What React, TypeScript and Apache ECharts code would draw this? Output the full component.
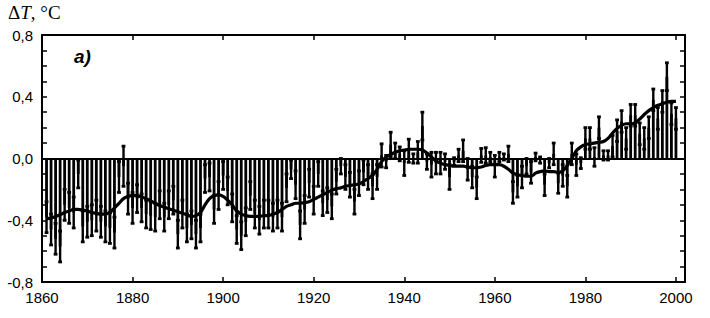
import React, { useEffect, useRef } from 'react';
import * as echarts from 'echarts';

// Annual global temperature anomalies (°C), one value per year from START_YEAR
const START_YEAR = 1861;

const anomaly = [
  -0.38, -0.46, -0.52, -0.57, -0.30, -0.32, -0.35, -0.10, -0.44, -0.41,
  -0.40, -0.37, -0.41, -0.44, -0.45, -0.48, -0.12, -0.05, -0.26, -0.32,
  -0.26, -0.32, -0.36, -0.37, -0.38, -0.30, -0.38, -0.30, -0.27, -0.49,
  -0.36, -0.45, -0.43, -0.49, -0.45, -0.13, -0.12, -0.33, -0.24, -0.11,
  -0.21, -0.32, -0.46, -0.50, -0.41, -0.24, -0.36, -0.40, -0.36, -0.36,
  -0.38, -0.36, -0.38, -0.19, -0.07, -0.17, -0.43, -0.33, -0.16, -0.27,
  -0.10, -0.29, -0.27, -0.31, -0.15, -0.05, -0.12, -0.17, -0.28, -0.16,
  -0.09, -0.12, -0.18, -0.12, 0.02, -0.02, 0.09, 0.05, 0.03, -0.03,
  0.05, 0.00, 0.04, 0.21, -0.02, -0.04, -0.03, -0.03, -0.02, -0.12,
  -0.02, 0.02, 0.05, -0.07, -0.12, -0.19, 0.02, 0.02, 0.01, -0.05,
  0.01, 0.01, 0.03, -0.22, -0.18, -0.12, -0.05, -0.09, 0.01, -0.01,
  -0.17, -0.03, 0.03, -0.16, -0.11, -0.18, 0.03, -0.04, -0.03, 0.13,
  0.13, 0.01, 0.20, 0.02, 0.02, 0.08, 0.18, 0.24, 0.13, 0.28,
  0.28, 0.16, 0.13, 0.20, 0.38, 0.26, 0.37, 0.53, 0.29, 0.26,
];

// Half-width of each year's error bar (°C)
const errHalf = [
  0.10, 0.10, 0.10, 0.10, 0.10, 0.10, 0.10, 0.09, 0.10, 0.10,
  0.10, 0.10, 0.10, 0.10, 0.10, 0.10, 0.10, 0.13, 0.10, 0.10,
  0.09, 0.09, 0.09, 0.09, 0.09, 0.09, 0.09, 0.09, 0.09, 0.09,
  0.09, 0.09, 0.09, 0.09, 0.09, 0.09, 0.09, 0.09, 0.09, 0.09,
  0.09, 0.09, 0.09, 0.09, 0.09, 0.09, 0.09, 0.09, 0.09, 0.09,
  0.09, 0.09, 0.09, 0.09, 0.06, 0.09, 0.09, 0.09, 0.09, 0.09,
  0.08, 0.08, 0.08, 0.08, 0.08, 0.05, 0.08, 0.08, 0.08, 0.08,
  0.08, 0.08, 0.08, 0.08, 0.075, 0.04, 0.08, 0.05, 0.045, 0.08,
  0.075, 0.03, 0.07, 0.09, 0.05, 0.08, 0.07, 0.07, 0.05, 0.08,
  0.025, 0.04, 0.07, 0.07, 0.07, 0.07, 0.045, 0.05, 0.03, 0.07,
  0.03, 0.02, 0.05, 0.07, 0.07, 0.07, 0.05, 0.07, 0.025, 0.02,
  0.07, 0.03, 0.07, 0.065, 0.07, 0.07, 0.07, 0.07, 0.035, 0.07,
  0.07, 0.06, 0.07, 0.03, 0.03, 0.07, 0.07, 0.07, 0.07, 0.07,
  0.07, 0.07, 0.07, 0.07, 0.07, 0.07, 0.07, 0.09, 0.07, 0.07,
];

// Smoothed (low-pass filtered) curve, one value per year
const smoothed = [
  -0.39, -0.385, -0.375, -0.365, -0.35, -0.34, -0.33, -0.33, -0.335, -0.34,
  -0.35, -0.355, -0.36, -0.36, -0.35, -0.32, -0.29, -0.26, -0.245, -0.24,
  -0.24, -0.25, -0.26, -0.275, -0.29, -0.305, -0.315, -0.325, -0.335, -0.345,
  -0.355, -0.365, -0.375, -0.37, -0.35, -0.30, -0.26, -0.24, -0.235, -0.245,
  -0.27, -0.30, -0.34, -0.36, -0.37, -0.375, -0.375, -0.375, -0.37, -0.37,
  -0.36, -0.35, -0.33, -0.31, -0.30, -0.29, -0.29, -0.285, -0.28, -0.265,
  -0.25, -0.235, -0.22, -0.205, -0.195, -0.19, -0.18, -0.175, -0.17, -0.165,
  -0.15, -0.13, -0.11, -0.07, -0.02, 0.01, 0.025, 0.04, 0.05, 0.055,
  0.06, 0.06, 0.06, 0.055, 0.035, 0.01, -0.015, -0.03, -0.04, -0.045,
  -0.05, -0.05, -0.05, -0.055, -0.06, -0.06, -0.055, -0.045, -0.04, -0.04,
  -0.04, -0.05, -0.07, -0.095, -0.105, -0.11, -0.115, -0.115, -0.095, -0.085,
  -0.08, -0.085, -0.085, -0.09, -0.08, -0.045, 0.0, 0.05, 0.075, 0.09,
  0.095, 0.10, 0.105, 0.11, 0.13, 0.165, 0.195, 0.215, 0.225, 0.225,
  0.23, 0.255, 0.285, 0.31, 0.33, 0.345, 0.355, 0.365, 0.37, 0.37,
];

const X_MIN = 1860;
const X_MAX = 2002;
const X_LABEL_STEP = 20;
const Y_MIN = -0.8;
const Y_MAX = 0.8;
const Y_TITLE = ['Δ', 'T', ', °C'];
const PANEL_LABEL = 'a)';

const SANS = '"Liberation Sans", Arial, Helvetica, sans-serif';
const SERIF = '"Liberation Serif", "Times New Roman", serif';

export default function App() {
  const ref = useRef<HTMLDivElement>(null);

  useEffect(() => {
    if (!ref.current) return;
    const chart = echarts.init(ref.current, null, { renderer: 'svg' });

    const years = anomaly.map((_, i) => START_YEAR + i);
    const barData = years.map((y, i) => [y, anomaly[i]]);
    const errData = years.map((y, i) => [y, anomaly[i] - errHalf[i], anomaly[i] + errHalf[i]]);
    const lineData = years.map((y, i) => [y, smoothed[i]]);

    const axisLine = { show: true, onZero: false, lineStyle: { color: '#000', width: 2 } };
    const axisTick = { show: true, inside: true, length: 5, lineStyle: { color: '#000', width: 1.5 } };

    const yFormatter = (v: number) => {
      const k = Math.round(v * 10);
      if (k % 4 !== 0) return '';
      return (k / 10).toFixed(1).replace('.', ',');
    };
    const xFormatter = (v: number) => (Math.round(v) % X_LABEL_STEP === 0 ? String(Math.round(v)) : '');

    chart.setOption({
      animation: false,
      backgroundColor: '#fff',
      grid: { left: 42, top: 35, width: 643, height: 247, containLabel: false },
      xAxis: [
        {
          type: 'value', min: X_MIN, max: X_MAX, interval: X_LABEL_STEP, position: 'bottom',
          axisLine, axisTick,
          axisLabel: { color: '#000', fontSize: 15, fontFamily: SANS, margin: 8, formatter: xFormatter, showMaxLabel: false },
          splitLine: { show: false },
        },
        {
          type: 'value', min: X_MIN, max: X_MAX, interval: X_LABEL_STEP, position: 'top',
          axisLine, axisTick,
          axisLabel: { show: false },
          splitLine: { show: false },
        },
      ],
      yAxis: [
        {
          type: 'value', min: Y_MIN, max: Y_MAX, interval: 0.1, position: 'left',
          axisLine, axisTick,
          axisLabel: { color: '#000', fontSize: 15, fontFamily: SANS, margin: 9, formatter: yFormatter },
          splitLine: { show: false },
        },
        {
          type: 'value', min: Y_MIN, max: Y_MAX, interval: 0.1, position: 'right',
          axisLine, axisTick,
          axisLabel: { show: false },
          splitLine: { show: false },
        },
      ],
      series: [
        {
          type: 'bar',
          xAxisIndex: 0,
          yAxisIndex: 0,
          data: barData,
          barWidth: 2.8,
          itemStyle: { color: '#000' },
          z: 2,
          markLine: {
            silent: true,
            symbol: ['none', 'none'],
            label: { show: false },
            lineStyle: { color: '#000', width: 2, type: 'solid' },
            data: [{ yAxis: 0 }],
          },
        },
        {
          type: 'custom',
          xAxisIndex: 0,
          yAxisIndex: 0,
          data: errData,
          encode: { x: 0, y: [1, 2] },
          z: 3,
          renderItem: (_params: any, api: any) => {
            const lo = api.coord([api.value(0), api.value(1)]);
            const hi = api.coord([api.value(0), api.value(2)]);
            return {
              type: 'group',
              children: [
                {
                  type: 'line',
                  shape: { x1: lo[0], y1: lo[1], x2: hi[0], y2: hi[1] },
                  style: { stroke: '#000', lineWidth: 2.4 },
                },
                {
                  type: 'rect',
                  shape: { x: lo[0] - 1.9, y: lo[1] - 1.4, width: 3.8, height: 2.8 },
                  style: { fill: '#000' },
                },
                {
                  type: 'rect',
                  shape: { x: hi[0] - 1.9, y: hi[1] - 1.4, width: 3.8, height: 2.8 },
                  style: { fill: '#000' },
                },
              ],
            };
          },
        },
        {
          type: 'line',
          xAxisIndex: 0,
          yAxisIndex: 0,
          data: lineData,
          smooth: 0.3,
          symbol: 'none',
          lineStyle: { color: '#000', width: 3.2 },
          z: 5,
        },
      ],
      graphic: [
        {
          type: 'text',
          left: 8,
          top: 3,
          style: {
            text: `{d|${Y_TITLE[0]}}{t|${Y_TITLE[1]}}{d|${Y_TITLE[2]}}`,
            rich: {
              d: { fontFamily: SERIF, fontSize: 19, fill: '#000' },
              t: { fontFamily: SERIF, fontSize: 19, fontStyle: 'italic', fill: '#000' },
            },
            fill: '#000',
          },
        },
        {
          type: 'text',
          left: 74,
          top: 47,
          style: {
            text: PANEL_LABEL,
            font: `italic bold 19px ${SANS}`,
            fill: '#000',
          },
        },
      ],
    });

    return () => chart.dispose();
  }, []);

  return (
    <div
      ref={ref}
      style={{ position: 'fixed', left: 0, top: 0, width: 710, height: 318, background: '#fff' }}
    />
  );
}
